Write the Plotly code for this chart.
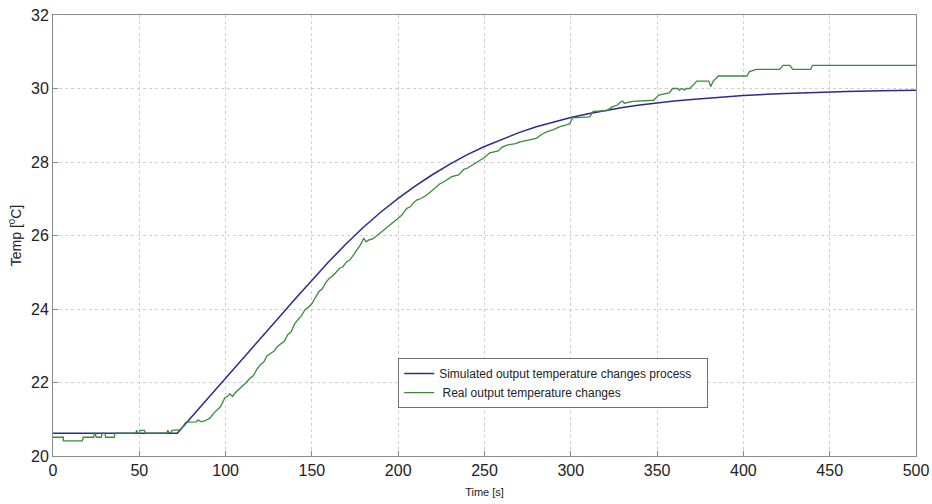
import plotly.graph_objects as go

# Simulated output temperature (blue)
sim_t = [0, 72, 80, 90, 100, 110, 120, 130, 140, 150, 160, 170, 180, 190, 200,
         210, 220, 230, 240, 250, 260, 270, 280, 290, 300, 310, 320, 330, 340,
         350, 360, 370, 380, 390, 400, 420, 440, 460, 480, 500]
sim_T = [20.62, 20.62, 21.05, 21.58, 22.12, 22.66, 23.2, 23.72, 24.26, 24.79,
         25.3, 25.78, 26.23, 26.64, 27.01, 27.35, 27.66, 27.94, 28.2, 28.42,
         28.62, 28.8, 28.96, 29.09, 29.21, 29.31, 29.4, 29.48, 29.55, 29.61,
         29.66, 29.7, 29.74, 29.78, 29.81, 29.86, 29.9, 29.92, 29.94, 29.95]

# Real output temperature (green)
real_t = [0, 6, 6, 17, 17.5, 23.5, 24, 24.5, 25, 28, 28.5, 30, 30.5, 35.5, 36,
          48, 48.5, 49, 50, 50.5, 53, 53.5, 66, 66.5, 67, 68.5, 69, 72, 74, 77,
          80, 83, 84, 86, 88, 91, 93, 95, 97, 99.5, 101, 102.5, 104, 106, 108,
          110, 112, 114, 116, 118, 120, 122, 124, 126, 128, 130, 132, 134, 136,
          138, 140, 142, 144, 146, 148, 150, 152, 154, 156, 158, 160, 162, 164,
          166, 168, 170, 172, 174, 176, 178, 180, 181.5, 183, 185, 187.5, 189,
          191, 193, 195, 197, 200, 202, 205, 207, 209, 211, 213, 216.5, 219,
          222, 224, 226, 228, 231, 235, 238, 240, 243, 247, 250, 253, 258, 260,
          263, 268, 270.6, 276, 280, 283, 286, 290, 293.7, 297, 299.5, 301, 311,
          313, 317, 321, 324, 327, 328.5, 330, 331, 336, 348, 351, 357, 359,
          362, 363, 364, 366, 367, 369, 373, 380, 381, 382.5, 385.5, 402, 403.5,
          407.5, 421, 423, 427, 428.5, 439, 440, 500]
real_T = [20.51, 20.51, 20.41, 20.41, 20.51, 20.51, 20.62, 20.62, 20.51, 20.51,
          20.62, 20.62, 20.51, 20.51, 20.62, 20.62, 20.70, 20.62, 20.62, 20.70,
          20.70, 20.62, 20.62, 20.70, 20.64, 20.64, 20.70, 20.70, 20.72, 20.92,
          20.93, 20.93, 20.98, 20.93, 20.96, 21.03, 21.16, 21.25, 21.34, 21.58,
          21.62, 21.69, 21.62, 21.74, 21.82, 21.92, 22.0, 22.11, 22.18, 22.35,
          22.48, 22.55, 22.72, 22.79, 22.85, 22.98, 23.05, 23.12, 23.3, 23.38,
          23.6, 23.7, 23.82, 23.98, 24.05, 24.15, 24.3, 24.47, 24.55, 24.72,
          24.83, 24.9, 25.0, 25.11, 25.15, 25.28, 25.33, 25.45, 25.6, 25.74,
          25.92, 25.83, 25.88, 25.9, 26.01, 26.05, 26.12, 26.2, 26.26, 26.35,
          26.47, 26.55, 26.74, 26.78, 26.9, 26.97, 27.0, 27.1, 27.2, 27.33,
          27.4, 27.45, 27.51, 27.6, 27.65, 27.8, 27.83, 27.92, 28.05, 28.12,
          28.25, 28.3, 28.4, 28.46, 28.5, 28.55, 28.6, 28.64, 28.75, 28.82,
          28.88, 28.96, 29.0, 29.05, 29.2, 29.23, 29.38, 29.4, 29.4, 29.5,
          29.55, 29.62, 29.66, 29.6, 29.65, 29.68, 29.82, 29.88, 30.0, 30.0,
          29.95, 30.0, 29.96, 30.0, 30.0, 30.2, 30.2, 30.05, 30.2, 30.34, 30.34,
          30.46, 30.52, 30.52, 30.63, 30.63, 30.52, 30.52, 30.63, 30.63]

x_ticks = [0, 50, 100, 150, 200, 250, 300, 350, 400, 450, 500]
y_ticks = [20, 22, 24, 26, 28, 30, 32]

fig = go.Figure()
fig.add_trace(go.Scatter(x=sim_t, y=sim_T, mode="lines",
                         name="Simulated output temperature changes process   ",
                         line=dict(color="#2b2b8c", width=1.5)))
fig.add_trace(go.Scatter(x=real_t, y=real_T, mode="lines",
                         name=" Real output temperature changes",
                         line=dict(color="#3c8a3c", width=1.3)))

axis_common = dict(showline=True, linecolor="#8a8a8a", linewidth=1, mirror=True,
                   ticks="inside", ticklen=5, tickcolor="#8a8a8a",
                   showgrid=True, gridcolor="#cfcfcf", griddash="dot", gridwidth=1,
                   zeroline=False,
                   tickfont=dict(family="Liberation Sans, Arial", size=16, color="#222"))

fig.update_xaxes(range=[0, 500], tickvals=x_ticks,
                 title=dict(text="Time [s]", font=dict(family="Liberation Sans, Arial", size=11, color="#222"),
                            standoff=10),
                 **axis_common)
fig.update_yaxes(range=[20, 32], tickvals=y_ticks,
                 title=dict(text="Temp [<sup>0</sup>C]", font=dict(family="Liberation Sans, Arial", size=14, color="#222"),
                            standoff=6),
                 **axis_common)

fig.update_layout(
    width=932, height=504,
    margin=dict(l=53, r=16, t=15, b=48, autoexpand=False),
    paper_bgcolor="white", plot_bgcolor="white",
    showlegend=True,
    legend=dict(x=0.40, y=0.222, xanchor="left", yanchor="top",
                bgcolor="white", bordercolor="#707070", borderwidth=1,
                font=dict(family="Liberation Sans, Arial", size=12, color="#222"),
                tracegroupgap=0, itemwidth=30),
)

fig.write_html("out.html")
